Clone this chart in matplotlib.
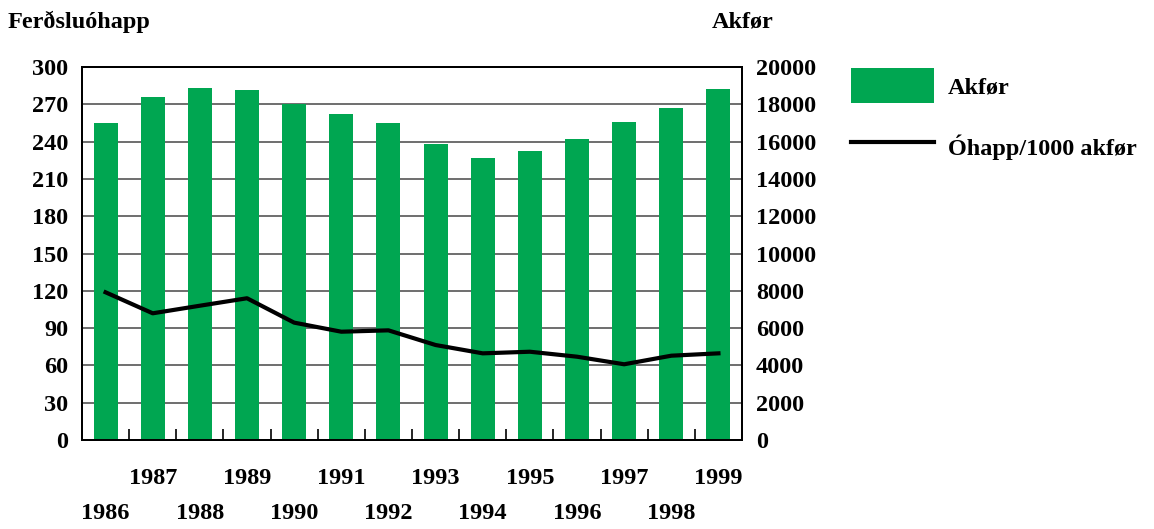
import numpy as np
import matplotlib.pyplot as plt
from matplotlib.ticker import FixedLocator

plt.rcParams['font.family'] = ['Liberation Serif', 'DejaVu Serif']
plt.rcParams['font.weight'] = 'bold'

years = list(range(1986, 2000))
akfor = [17000, 18400, 18870, 18770, 18020, 17480, 17000,
         15870, 15120, 15500, 16140, 17050, 17800, 18820]
ohapp = [118.8, 101.9, 108.0, 114.0, 94.4, 87.1, 88.2,
         76.4, 69.7, 71.0, 67.0, 60.9, 67.8, 69.7]
left_ticks = list(range(0, 301, 30))
right_ticks = list(range(0, 20001, 2000))

green = '#00A651'
fs = 17.5

fig = plt.figure(figsize=(11.54, 5.29), dpi=100)
ax = fig.add_axes([82 / 1154, 89 / 529, 660 / 1154, 373 / 529])
ax2 = ax.twinx()

x = np.arange(len(years))

# bars on the right axis, grid below them
ax2.set_axisbelow(True)
ax2.bar(x, akfor, width=0.51, color=green, label='Akfør', zorder=2)
ax2.set_ylim(0, 20000)
ax2.set_yticks(right_ticks)
ax2.yaxis.grid(True, color='#555555', linewidth=1.2)
ax2.tick_params(axis='y', length=0, pad=10, labelsize=fs)

# line on the left axis, drawn above bars
ax.set_zorder(ax2.get_zorder() + 1)
ax.patch.set_visible(False)
line, = ax.plot(x, ohapp, color='black', linewidth=3.0, label='Óhapp/1000 akfør')
ax.set_ylim(0, 300)
ax.set_yticks(left_ticks)
ax.tick_params(axis='y', length=0, pad=10, labelsize=fs)

ax.set_xlim(-0.5, len(years) - 0.5)
ax.set_xticks(x)
labels = [str(y) if y % 2 else '\n' + str(y) for y in years]
ax.set_xticklabels(labels, linespacing=1.9)
ax.tick_params(axis='x', which='major', length=0, pad=20, labelsize=fs)
ax.xaxis.set_minor_locator(FixedLocator(np.arange(0.5, len(years) - 1, 1.0)))
ax.tick_params(axis='x', which='minor', direction='in', length=8, width=1.2)
ax2.tick_params(axis='x', which='both', length=0)

for a in (ax, ax2):
    for s in a.spines.values():
        s.set_linewidth(1.4)

fig.text(8 / 1154, 1 - 22 / 529, 'Ferðsluóhapp', fontsize=fs, va='center', ha='left')
fig.text(712 / 1154, 1 - 22 / 529, 'Akfør', fontsize=fs, va='center', ha='left')

handles = [ax2.patches[0], line]
fig.legend(handles, ['Akfør', 'Óhapp/1000 akfør'], loc='upper left',
           bbox_to_anchor=(829 / 1154, 1 - 46 / 529), frameon=False,
           fontsize=fs, handlelength=3.4, handleheight=1.85,
           handletextpad=0.6, labelspacing=1.08)

fig.savefig('out.png', dpi=100)
